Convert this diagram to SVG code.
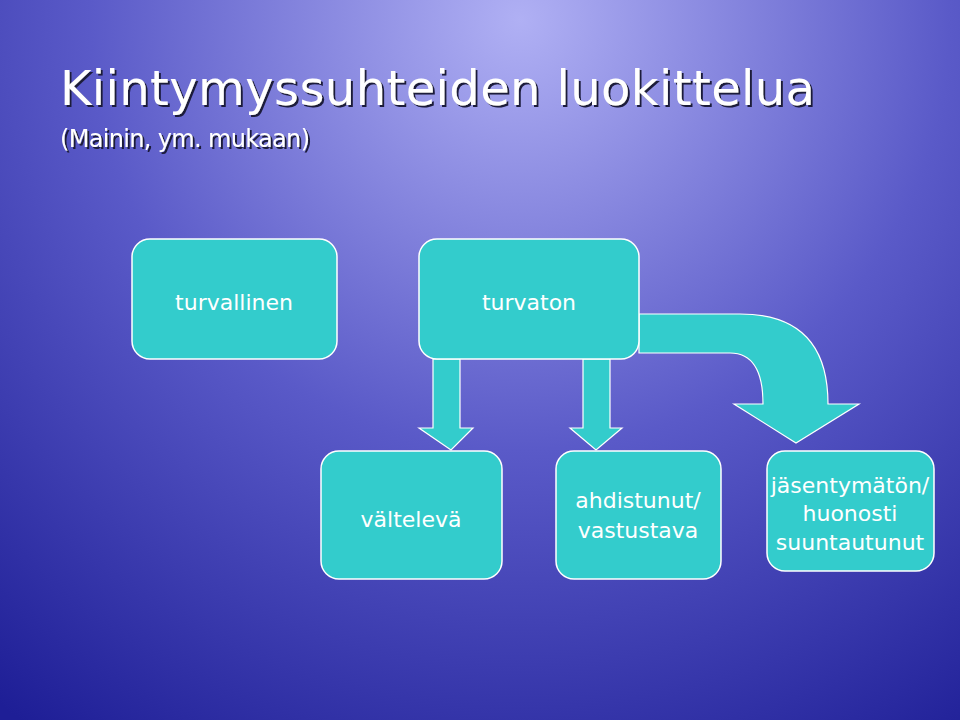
<svg xmlns="http://www.w3.org/2000/svg" width="960" height="720" viewBox="0 0 960 720">
<defs>
<radialGradient id="bg" cx="520" cy="20" r="860" gradientUnits="userSpaceOnUse">
<stop offset="0" stop-color="#b0b0f4"/>
<stop offset="0.5" stop-color="#5a5ac8"/>
<stop offset="1" stop-color="#1e1e96"/>
</radialGradient>
<filter id="sh" x="-5%" y="-20%" width="110%" height="140%">
<feDropShadow dx="2" dy="2" stdDeviation="0" flood-color="#1a1a3a"/>
</filter>
<style>
.n{fill:#33cccc;stroke:#ffffff;stroke-width:1.5}
.a{fill:#33cccc;stroke:#ffffff;stroke-width:1.2}
.t{font-family:"DejaVu Sans",sans-serif;fill:#ffffff;font-size:22px;text-anchor:middle}
.h{font-family:"DejaVu Sans",sans-serif;fill:#ffffff;filter:url(#sh)}
</style>
</defs>
<rect width="960" height="720" fill="url(#bg)"/>
<g id="title">
<text x="60" y="105" class="h" font-size="48" textLength="755">Kiintymyssuhteiden luokittelua</text>
<text x="60" y="147" class="h" font-size="24" textLength="250">(Mainin, ym. mukaan)</text>
</g>
<g id="connectors">
<path class="a" d="M433,359 V428 H419 L451,450 L473,428 H460 V359 Z"/>
<path class="a" d="M583,359 V428 H570 L596,450 L622,428 H610 V359 Z"/>
<path class="a" d="M639,314 H740 Q828,314 828,404 H859 L796,443 L734,404 H763 Q763,353 730,353 H639 Z"/>
</g>
<g id="n1"><rect class="n" x="132" y="239" width="205" height="120" rx="18"/><text class="t" x="234" y="310">turvallinen</text></g>
<g id="n2"><rect class="n" x="419" y="239" width="220" height="120" rx="18"/><text class="t" x="529" y="310">turvaton</text></g>
<g id="n3"><rect class="n" x="321" y="451" width="181" height="128" rx="18"/><text class="t" x="411" y="527">vältelevä</text></g>
<g id="n4"><rect class="n" x="556" y="451" width="165" height="128" rx="18"/><text class="t" x="638" y="508">ahdistunut/</text><text class="t" x="638" y="538">vastustava</text></g>
<g id="n5"><rect class="n" x="767" y="451" width="167" height="120" rx="18"/><text class="t" x="850" y="493">jäsentymätön/</text><text class="t" x="850" y="521">huonosti</text><text class="t" x="850" y="550">suuntautunut</text></g>
</svg>
